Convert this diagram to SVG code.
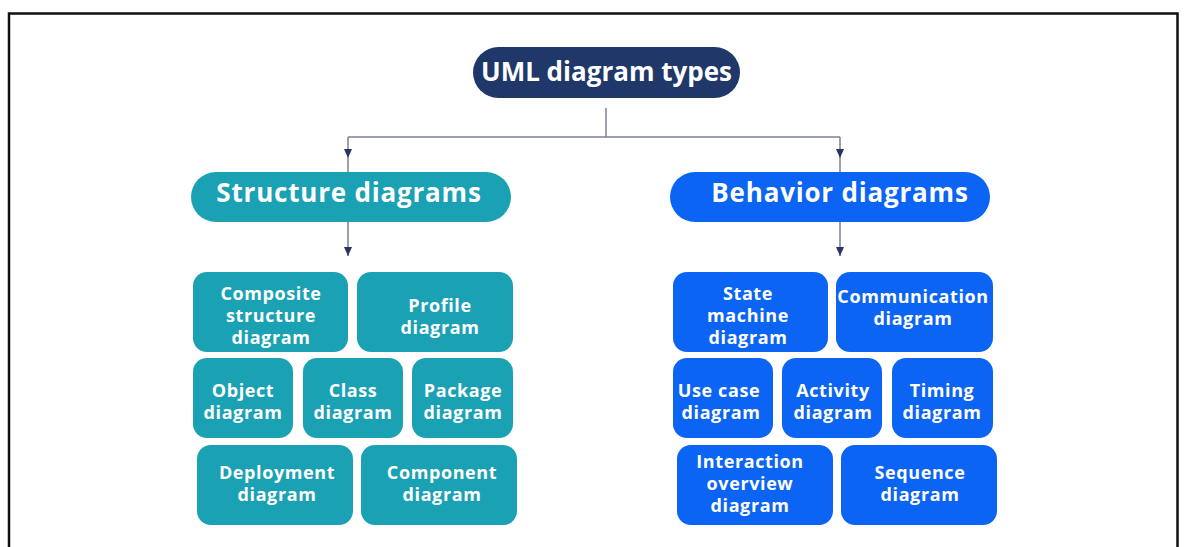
<svg xmlns="http://www.w3.org/2000/svg" width="1184" height="547" viewBox="0 0 1184 547">
<defs>
<style>
.frame{fill:none;stroke:#111;stroke-width:2.5}
.conn{fill:none;stroke:#7d8196;stroke-width:1.5}
.title{fill:#203769}
.str{fill:#1aa1b3}
.beh{fill:#0b64f4}
.h{font-family:"Open Sans","DejaVu Sans",sans-serif;font-weight:700;font-size:26px;letter-spacing:0.8px;fill:#fff;text-anchor:middle}
.ht{font-family:"Open Sans","DejaVu Sans",sans-serif;font-weight:700;font-size:26px;fill:#fff;text-anchor:middle}
.t{font-family:"Open Sans","DejaVu Sans",sans-serif;font-weight:700;font-size:18px;letter-spacing:0.6px;fill:#fff;text-anchor:middle}
</style>
<marker id="ah" markerWidth="10" markerHeight="8" refX="9" refY="4" orient="auto" markerUnits="userSpaceOnUse">
<path d="M0,0 L9,4 L0,8 Z" fill="#2b3360"/>
</marker>
</defs>
<rect width="1184" height="547" fill="#fff"/>
<path class="frame" d="M9 547 V13.5 H1177.5 V547"/>

<g id="connectors">
<path class="conn" d="M606 108 V137"/>
<path class="conn" d="M348 137 H840"/>
<path class="conn" d="M348 137 V158" marker-end="url(#ah)"/>
<path class="conn" d="M348 158 V172"/>
<path class="conn" d="M840 137 V158" marker-end="url(#ah)"/>
<path class="conn" d="M840 158 V172"/>
<path class="conn" d="M348 222 V256" marker-end="url(#ah)"/>
<path class="conn" d="M840 222 V256" marker-end="url(#ah)"/>
</g>

<g id="uml-types">
<rect class="title" x="473" y="47" width="267" height="51" rx="25.5"/>
<text class="ht" x="606.5" y="81">UML diagram types</text>
</g>

<g id="structure">
<rect class="str" x="191" y="172" width="320" height="50" rx="25"/>
<text class="h" x="349" y="202">Structure diagrams</text>
</g>

<g id="behavior">
<rect class="beh" x="670" y="172" width="320" height="50" rx="25"/>
<text class="h" x="840" y="202">Behavior diagrams</text>
</g>

<g id="composite">
<rect class="str" x="193" y="272" width="155" height="80" rx="14"/>
<text class="t" x="271" y="300">Composite</text>
<text class="t" x="271" y="322">structure</text>
<text class="t" x="271" y="344">diagram</text>
</g>
<g id="profile">
<rect class="str" x="357" y="272" width="156" height="80" rx="14"/>
<text class="t" x="440" y="312">Profile</text>
<text class="t" x="440" y="334">diagram</text>
</g>
<g id="object">
<rect class="str" x="193" y="358" width="100" height="80" rx="14"/>
<text class="t" x="243" y="397">Object</text>
<text class="t" x="243" y="419">diagram</text>
</g>
<g id="class">
<rect class="str" x="303" y="358" width="100" height="80" rx="14"/>
<text class="t" x="353" y="397">Class</text>
<text class="t" x="353" y="419">diagram</text>
</g>
<g id="package">
<rect class="str" x="412" y="358" width="101" height="80" rx="14"/>
<text class="t" x="463" y="397">Package</text>
<text class="t" x="463" y="419">diagram</text>
</g>
<g id="deployment">
<rect class="str" x="197" y="445" width="156" height="80" rx="14"/>
<text class="t" x="277" y="479">Deployment</text>
<text class="t" x="277" y="501">diagram</text>
</g>
<g id="component">
<rect class="str" x="361" y="445" width="156" height="80" rx="14"/>
<text class="t" x="442" y="479">Component</text>
<text class="t" x="442" y="501">diagram</text>
</g>

<g id="state-machine">
<rect class="beh" x="673" y="272" width="155" height="80" rx="14"/>
<text class="t" x="748" y="300">State</text>
<text class="t" x="748" y="322">machine</text>
<text class="t" x="748" y="344">diagram</text>
</g>
<g id="communication">
<rect class="beh" x="836" y="272" width="157" height="80" rx="14"/>
<text class="t" x="913" y="303">Communication</text>
<text class="t" x="913" y="325">diagram</text>
</g>
<g id="use-case">
<rect class="beh" x="673" y="358" width="100" height="80" rx="14"/>
<text class="t" x="719" y="397">Use case</text>
<text class="t" x="721" y="419">diagram</text>
</g>
<g id="activity">
<rect class="beh" x="782" y="358" width="100" height="80" rx="14"/>
<text class="t" x="833" y="397">Activity</text>
<text class="t" x="833" y="419">diagram</text>
</g>
<g id="timing">
<rect class="beh" x="892" y="358" width="101" height="80" rx="14"/>
<text class="t" x="942" y="397">Timing</text>
<text class="t" x="942" y="419">diagram</text>
</g>
<g id="interaction-overview">
<rect class="beh" x="677" y="445" width="156" height="80" rx="14"/>
<text class="t" x="750" y="468">Interaction</text>
<text class="t" x="750" y="490">overview</text>
<text class="t" x="750" y="512">diagram</text>
</g>
<g id="sequence">
<rect class="beh" x="841" y="445" width="156" height="80" rx="14"/>
<text class="t" x="920" y="479">Sequence</text>
<text class="t" x="920" y="501">diagram</text>
</g>
</svg>
